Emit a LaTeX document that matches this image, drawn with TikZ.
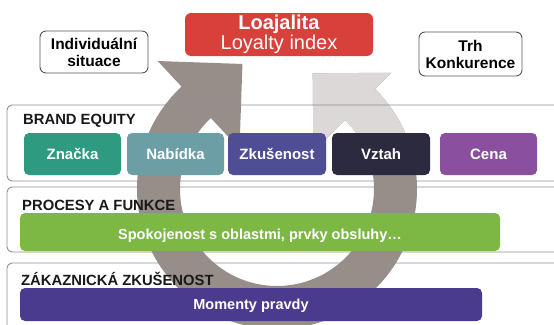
\documentclass[tikz,border=0pt]{standalone}
\usepackage{fontspec}
\setmainfont{Liberation Sans}
\usetikzlibrary{calc}

\definecolor{loyalred}{HTML}{D8413B}
\definecolor{cznacka}{HTML}{2E9B80}
\definecolor{cnabidka}{HTML}{6B9FA5}
\definecolor{czkusenost}{HTML}{4F4D94}
\definecolor{cvztah}{HTML}{2C2A3F}
\definecolor{ccena}{HTML}{8B4F9F}
\definecolor{cgreen}{HTML}{7DB844}
\definecolor{cmoments}{HTML}{4B3B8E}
\definecolor{ringdark}{HTML}{978E8A}
\definecolor{ringlight}{HTML}{DCD8D8}
\definecolor{panelline}{HTML}{8E8E8E}
\definecolor{boxline}{HTML}{555555}

\begin{document}
\begin{tikzpicture}[x=1pt,y=1pt,
  panel/.style={draw=panelline, line width=0.9pt, rounded corners=5pt},
  seclabel/.style={anchor=base west, inner sep=0pt,
    font=\fontsize{14.8}{17}\selectfont\bfseries, text=black!90},
  brandbox/.style={rounded corners=5pt, minimum width=97pt, minimum height=42pt,
    inner sep=0pt, text=white, text height=10.5pt, text depth=0pt,
    font=\fontsize{15}{17}\selectfont\bfseries},
  barbox/.style={rounded corners=5pt, inner sep=0pt, text=white,
    text depth=0pt, font=\fontsize{14.5}{17}\selectfont\bfseries},
  infobox/.style={draw=boxline, line width=0.9pt, fill=white, rounded corners=6pt,
    align=center, inner sep=0pt, font=\fontsize{15.5}{17}\selectfont\bfseries}
]
\useasboundingbox (0,0) rectangle (554,-324);
\clip (0,0) rectangle (554,-324);
\fill[white] (0,0) rectangle (554,-324);

\coordinate (C) at (277,-189);

% cycle arrow: left arm with its head
\fill[ringdark] ($(C)+(270:97)$) arc[start angle=270,end angle=133,radius=97]
  -- ($(C)+(133:55)$) -- ($(C)+(133:115)+(43:60)$) -- ($(C)+(133:175)$)
  -- ($(C)+(133:140)$) arc[start angle=133,end angle=270,radius=140] -- cycle;
% right arm, dark below and faded towards its head
\fill[ringdark] ($(C)+(-90:140)$) arc[start angle=-90,end angle=45.5,radius=140]
  -- ($(C)+(45.5:163)$) -- ($(C)+(45.5:107.5)+(135.5:55.6)$) -- ($(C)+(45.5:52)$)
  -- ($(C)+(45.5:97)$) arc[start angle=45.5,end angle=-90,radius=97] -- cycle;
\begin{scope}
  \clip (270,-160) rectangle (560,0);
  \fill[ringlight] ($(C)+(-90:140)$) arc[start angle=-90,end angle=45.5,radius=140]
    -- ($(C)+(45.5:163)$) -- ($(C)+(45.5:107.5)+(135.5:55.6)$) -- ($(C)+(45.5:52)$)
    -- ($(C)+(45.5:97)$) arc[start angle=45.5,end angle=-90,radius=97] -- cycle;
\end{scope}

% section panels
\draw[panel] (7,-105) rectangle (600,-181);
\draw[panel] (7,-187) rectangle (600,-252);
\draw[panel] (7,-263) rectangle (600,-400);

\node[seclabel] (brandlbl) at (23,-124) {BRAND EQUITY};
\node[seclabel] (proclbl) at (22,-210) {PROCESY A FUNKCE};
\node[seclabel] (custlbl) at (21,-285) {ZÁKAZNICKÁ ZKUŠENOST};

% brand equity items
\node[brandbox, fill=cznacka] (znacka) at (72.5,-154) {Značka};
\node[brandbox, fill=cnabidka] (nabidka) at (175.5,-154) {Nabídka};
\node[brandbox, fill=czkusenost, minimum width=98pt] (zkusenost) at (277,-154) {Zkušenost};
\node[brandbox, fill=cvztah, minimum width=98pt] (vztah) at (381,-154) {Vztah};
\node[brandbox, fill=ccena] (cena) at (488.5,-154) {Cena};

% process and experience bars
\node[barbox, fill=cgreen, minimum width=480pt, minimum height=38pt, text height=14pt]
  (spokojenost) at (260,-232) {Spokojenost s oblastmi, prvky obsluhy…};
\node[barbox, fill=cmoments, minimum width=462pt, minimum height=33pt, text height=10.5pt]
  (momenty) at (251,-304.5) {Momenty pravdy};

% top row
\node[rounded corners=6pt, fill=loyalred, minimum width=188pt, minimum height=43pt,
  inner sep=0pt, text=white, align=center, font=\fontsize{20}{17}\selectfont]
  (loajalita) at (279,-34.5) {\textbf{Loajalita}\\Loyalty index};
\node[infobox, minimum width=108pt, minimum height=42pt] (situace) at (94,-52)
  {\fontsize{15.5}{18}\selectfont Individuální\\situace};
\node[infobox, minimum width=103pt, minimum height=44pt] (trh) at (470.5,-54)
  {\fontsize{15.5}{16.5}\selectfont Trh\\Konkurence};
\end{tikzpicture}
\end{document}
